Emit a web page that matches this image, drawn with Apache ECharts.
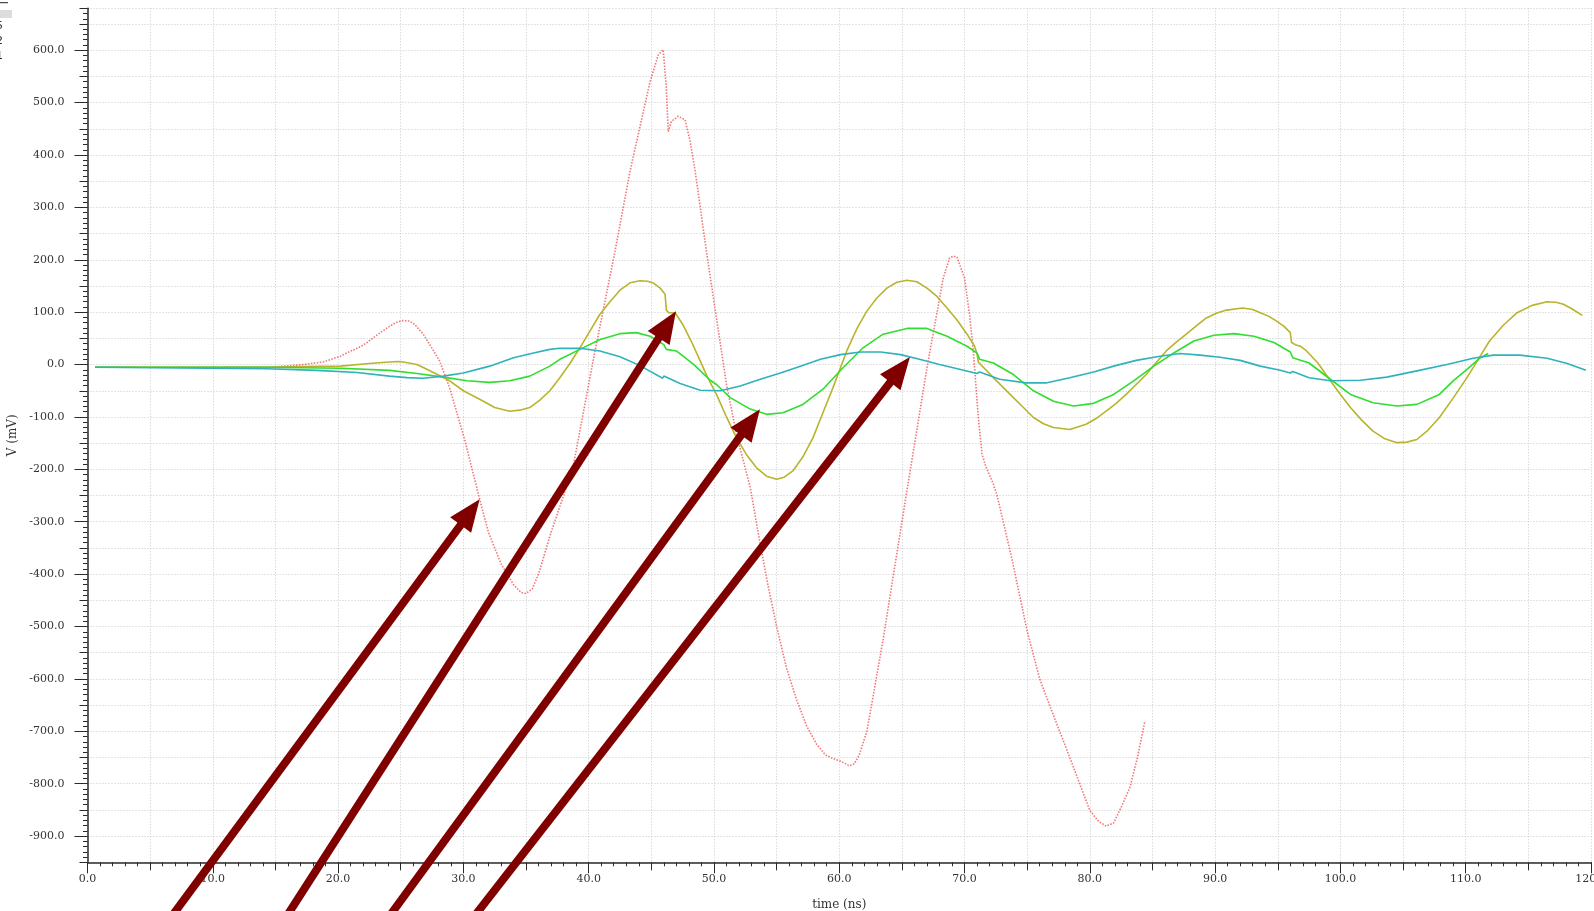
<!DOCTYPE html>
<html>
<head>
<meta charset="utf-8">
<title>Transient response</title>
<script src="https://cdn.jsdelivr.net/npm/echarts@6/dist/echarts.min.js"></script>
<style>
  html, body { margin: 0; padding: 0; background: #ffffff; }
  #chart { width: 1594px; height: 911px; }
</style>
</head>
<body>
<div id="chart"></div>
<script>
// Node voltages (mV) against simulation time (ns): [time, voltage]
const redTrace = [
  [0.6, -5], [10, -5], [14.8, -4.8], [17.2, 0], [18.8, 5], [20.2, 16], [21.0, 26], [21.35, 29],
  [21.6, 32], [22.2, 40], [22.8, 51], [23.5, 63], [24.1, 73], [24.7, 81], [25.2, 84], [25.7, 83],
  [26.1, 77], [26.8, 58], [27.4, 35], [28.1, 7], [28.9, -44], [30.1, -143], [31.3, -257],
  [32.0, -320], [33.0, -380], [34.0, -420], [34.6, -435], [35.0, -437], [35.5, -428], [36.0, -400],
  [37.0, -320], [38.0, -250], [38.8, -190], [40.4, 13], [42.1, 216], [43.3, 369], [44.9, 540],
  [45.55, 591], [45.95, 601], [46.1, 598], [46.2, 528], [46.35, 445], [46.6, 464], [47.15, 474],
  [47.7, 467], [48.1, 426], [48.5, 369], [49.4, 216], [50.2, 89], [51.0, -38], [51.8, -133],
  [52.9, -235], [53.6, -330], [54.3, -420], [55.0, -500], [55.8, -580], [56.6, -640], [57.4, -690],
  [58.2, -725], [58.9, -745], [59.5, -752], [60.2, -758], [60.8, -766], [61.2, -762], [61.6, -745],
  [62.2, -700], [62.8, -620], [63.5, -525], [64.2, -420], [65.4, -241], [67.0, -6], [68.3, 165],
  [68.8, 203], [69.1, 207], [69.4, 205], [70.0, 165], [70.4, 95], [70.7, 26], [71.1, -101],
  [71.4, -171], [71.7, -195], [72.3, -228], [72.6, -250], [73.8, -373], [75.0, -509], [76.0, -600],
  [76.8, -651], [78.4, -750], [80.0, -851], [80.7, -872], [81.3, -881], [81.9, -875], [82.5, -845],
  [83.2, -807], [83.8, -750], [84.4, -680]
];

const oliveTrace = [
  [0.6, -5], [14, -5], [17, -4], [20.2, -3], [22.5, 2], [24.1, 5], [24.8, 6], [25.2, 5], [26.3, 0],
  [27.0, -8], [28.0, -20], [28.9, -31], [30.0, -50], [31.6, -70], [32.5, -82], [33.7, -89],
  [34.5, -87], [35.3, -82], [36.1, -68], [36.9, -50], [37.7, -25], [38.5, 2], [39.3, 32], [40.1, 64],
  [40.9, 96], [41.7, 120], [42.5, 142], [43.3, 156], [44.1, 160], [44.7, 159], [45.2, 155],
  [45.7, 146], [46.1, 134], [46.2, 104], [46.4, 99], [46.9, 99], [47.5, 77], [48.2, 44], [48.9, 7],
  [49.5, -25], [50.2, -57], [51.0, -100], [51.8, -140], [52.6, -172], [53.4, -197], [54.2, -213],
  [55.0, -219], [55.6, -215], [56.3, -203], [57.1, -176], [57.9, -140], [58.7, -92], [59.5, -44],
  [60.6, 26], [61.4, 68], [62.2, 102], [63.0, 127], [63.8, 146], [64.6, 157], [65.4, 161],
  [66.2, 158], [67.0, 146], [67.8, 130], [68.6, 108], [69.4, 85], [70.2, 58], [70.8, 35],
  [71.0, 20], [71.1, 5], [71.5, -5], [72.3, -25], [73.1, -44], [73.9, -63], [74.7, -82],
  [75.5, -101], [76.3, -113], [77.1, -120], [78.4, -124], [79.7, -114], [80.5, -103], [81.3, -89],
  [82.1, -74], [82.9, -57], [83.7, -38], [84.5, -19], [85.3, 4], [86.1, 26], [86.9, 43], [87.7, 58],
  [88.5, 74], [89.3, 89], [90.1, 98], [90.9, 104], [92.2, 108], [93.0, 105], [93.6, 99], [94.3, 92],
  [94.9, 83], [95.5, 73], [96.0, 61], [96.1, 42], [96.4, 38], [96.8, 35], [97.3, 26], [98.2, 3],
  [99.2, -31], [100.0, -57], [100.8, -82], [101.7, -106], [102.6, -127], [103.5, -141],
  [104.5, -149], [105.3, -148], [106.1, -143], [107.0, -125], [107.9, -101], [109.0, -64],
  [110.1, -25], [111.0, 10], [111.9, 45], [113.0, 75], [114.1, 99], [115.3, 113], [116.5, 120],
  [117.2, 119], [117.8, 115], [118.5, 106], [119.3, 94]
];

const greenTrace = [
  [0.6, -5], [14, -5], [17, -6], [20.2, -7], [24.1, -11], [26.3, -17], [28.4, -24], [30.3, -31],
  [32.1, -34], [33.7, -31], [35.3, -22], [36.9, -3], [37.7, 10], [39.3, 29], [40.9, 48], [42.5, 59],
  [43.8, 61], [44.9, 54], [46.0, 38], [46.2, 29], [47.0, 26], [48.4, 0], [49.7, -30], [50.2, -38],
  [51.3, -63], [52.9, -85], [54.2, -95], [55.5, -92], [57.1, -76], [58.7, -47], [60.3, -6],
  [61.9, 32], [63.5, 58], [65.4, 69], [67.0, 69], [68.6, 54], [70.2, 35], [71.0, 22], [71.2, 10],
  [72.3, 3], [73.9, -19], [75.5, -50], [77.1, -70], [78.7, -79], [80.3, -74], [81.9, -57],
  [83.5, -31], [85.1, -3], [86.7, 22], [88.3, 45], [89.9, 56], [91.5, 59], [93.1, 54], [94.7, 42],
  [96.0, 24], [96.2, 13], [97.5, 3], [99.2, -28], [100.8, -57], [102.6, -73], [104.5, -79],
  [106.1, -76], [107.9, -57], [109.0, -31], [110.1, -9], [111.1, 12], [111.8, 21]
];

const cyanTrace = [
  [0.6, -5], [14.3, -8], [18.3, -11], [21.5, -15], [24.1, -22], [25.5, -25], [26.8, -26],
  [28.4, -22], [30.0, -16], [32.1, -3], [34.0, 13], [35.6, 22], [36.9, 29], [37.7, 31], [39.3, 31],
  [40.9, 26], [42.5, 15], [44.1, -2], [45.9, -26], [46.0, -22], [47.3, -36], [48.9, -49],
  [50.5, -50], [52.1, -41], [53.7, -28], [55.3, -16], [56.9, -3], [58.5, 10], [60.1, 19],
  [61.7, 24], [63.3, 24], [64.9, 19], [66.4, 10], [68.0, 0], [69.6, -9], [71.0, -17], [71.2, -14],
  [72.8, -28], [74.9, -35], [76.5, -35], [78.4, -25], [80.3, -14], [81.9, -3], [83.7, 8],
  [85.6, 16], [87.2, 21], [88.8, 18], [90.4, 14], [92.0, 8], [93.6, -3], [95.2, -11], [96.0, -16],
  [96.2, -13], [97.5, -25], [99.2, -31], [101.6, -30], [103.7, -24], [106.1, -12], [108.5, 0],
  [110.6, 12], [112.2, 18], [114.3, 18], [116.5, 12], [118.1, 2], [119.6, -11]
];

// Annotation arrows: tail (time, mV) -> tip (time, mV)
const arrowTails = [[5.8, -1083], [14.9, -1090], [22.9, -1092], [29.8, -1086]];
const arrowTips = [[31.3, -257], [46.97, 102], [53.67, -85.5], [65.64, 14.3]];

// Tick labels
const voltTicks = [-900, -800, -700, -600, -500, -400, -300, -200, -100, 0, 100, 200, 300, 400, 500, 600];

const FONT = 'DejaVu Serif';
const AXIS_COLOR = '#2a2a2a';
const GRID_LINE = { show: true, lineStyle: { color: '#c9c9c9', type: [1, 2], width: 1 } };

const chart = echarts.init(document.getElementById('chart'), null, { renderer: 'canvas' });

const arrowData = arrowTails.map((t, i) => [t[0], t[1], arrowTips[i][0], arrowTips[i][1]]);

const option = {
  backgroundColor: '#ffffff',
  animation: false,
  grid: {
    left: 87.5, right: 3, top: 8.3, bottom: 48.7,
    containLabel: false, outerBoundsMode: 'none'
  },
  xAxis: [
    {
      type: 'value', min: 0, max: 120, interval: 5, position: 'bottom',
      axisLine: { show: true, onZero: false, lineStyle: { color: AXIS_COLOR, width: 1.5 } },
      axisTick: { show: true, length: 8, lineStyle: { color: AXIS_COLOR, width: 1 } },
      minorTick: { show: true, splitNumber: 5, length: 4, lineStyle: { color: AXIS_COLOR, width: 1 } },
      axisLabel: { show: false },
      splitLine: GRID_LINE
    },
    {
      type: 'value', min: 0, max: 120, interval: 10, position: 'bottom',
      axisLine: { show: false, onZero: false },
      axisTick: { show: true, length: 11, lineStyle: { color: AXIS_COLOR, width: 1 } },
      axisLabel: {
        show: true, margin: 11, color: '#333', fontFamily: FONT, fontSize: 11,
        formatter: v => v.toFixed(1)
      },
      splitLine: { show: false },
      name: 'time (ns)', nameLocation: 'middle', nameGap: 37,
      nameTextStyle: { color: '#333', fontFamily: FONT, fontSize: 12 }
    }
  ],
  yAxis: [
    {
      type: 'value', min: -950, max: 680, interval: 50, position: 'left',
      axisLine: { show: true, onZero: false, lineStyle: { color: AXIS_COLOR, width: 1.5 } },
      axisTick: { show: true, length: 8, lineStyle: { color: AXIS_COLOR, width: 1 } },
      minorTick: { show: true, splitNumber: 5, length: 4.5, lineStyle: { color: AXIS_COLOR, width: 1 } },
      axisLabel: { show: false },
      splitLine: GRID_LINE
    },
    {
      type: 'value', min: -950, max: 680, position: 'left',
      axisLine: { show: false, onZero: false },
      axisTick: { show: true, length: 13, customValues: voltTicks, lineStyle: { color: AXIS_COLOR, width: 1 } },
      axisLabel: {
        show: true, margin: 23, color: '#333', fontFamily: FONT, fontSize: 11,
        customValues: voltTicks, formatter: v => v.toFixed(1)
      },
      splitLine: { show: false },
      name: 'V (mV)', nameLocation: 'middle', nameGap: 58,
      nameTextStyle: { color: '#333', fontFamily: FONT, fontSize: 12 }
    }
  ],
  series: [
    {
      type: 'line', data: redTrace, showSymbol: false, xAxisIndex: 0, yAxisIndex: 0,
      lineStyle: { color: '#ef4545', width: 1.6, type: [1.5, 1.5], opacity: 0.75 }
    },
    {
      type: 'line', data: oliveTrace, showSymbol: false, xAxisIndex: 0, yAxisIndex: 0,
      lineStyle: { color: '#b8b42c', width: 1.6 }
    },
    {
      type: 'line', data: greenTrace, showSymbol: false, xAxisIndex: 0, yAxisIndex: 0,
      lineStyle: { color: '#30de30', width: 1.6 }
    },
    {
      type: 'line', data: cyanTrace, showSymbol: false, xAxisIndex: 0, yAxisIndex: 0,
      lineStyle: { color: '#2fb2bc', width: 1.6 }
    },
    {
      type: 'custom', xAxisIndex: 0, yAxisIndex: 0, clip: false, z: 10,
      data: arrowData,
      renderItem: function (params, api) {
        const p0 = api.coord([api.value(0), api.value(1)]);
        const p1 = api.coord([api.value(2), api.value(3)]);
        const dx = p1[0] - p0[0], dy = p1[1] - p0[1];
        const len = Math.hypot(dx, dy);
        const ux = dx / len, uy = dy / len;
        const nx = -uy, ny = ux;
        const headLen = 32, headHalf = 13;
        const bx = p1[0] - ux * headLen, by = p1[1] - uy * headLen;
        return {
          type: 'group',
          children: [
            {
              type: 'line',
              shape: { x1: p0[0], y1: p0[1], x2: bx + ux * 2, y2: by + uy * 2 },
              style: { stroke: '#800000', lineWidth: 8 }
            },
            {
              type: 'polygon',
              shape: { points: [[p1[0], p1[1]], [bx + nx * headHalf, by + ny * headHalf], [bx - nx * headHalf, by - ny * headHalf]] },
              style: { fill: '#800000' }
            }
          ]
        };
      }
    }
  ],
  graphic: [
    { type: 'line', shape: { x1: 0, y1: 2.7, x2: 8, y2: 2.7 }, style: { stroke: '#222', lineWidth: 1 } },
    { type: 'rect', shape: { x: 0, y: 10, width: 12, height: 8 }, style: { fill: '#dcdcdc' } },
    { type: 'text', left: -4, top: 21, style: { text: '5', fontSize: 11, fontFamily: 'DejaVu Sans', fill: '#333' } },
    { type: 'text', left: -4, top: 36, style: { text: '2', fontSize: 11, fontFamily: 'DejaVu Sans', fill: '#333' } },
    { type: 'text', left: -4, top: 51, style: { text: '1', fontSize: 11, fontFamily: 'DejaVu Sans', fill: '#333' } }
  ]
};

chart.setOption(option);
</script>
</body>
</html>
